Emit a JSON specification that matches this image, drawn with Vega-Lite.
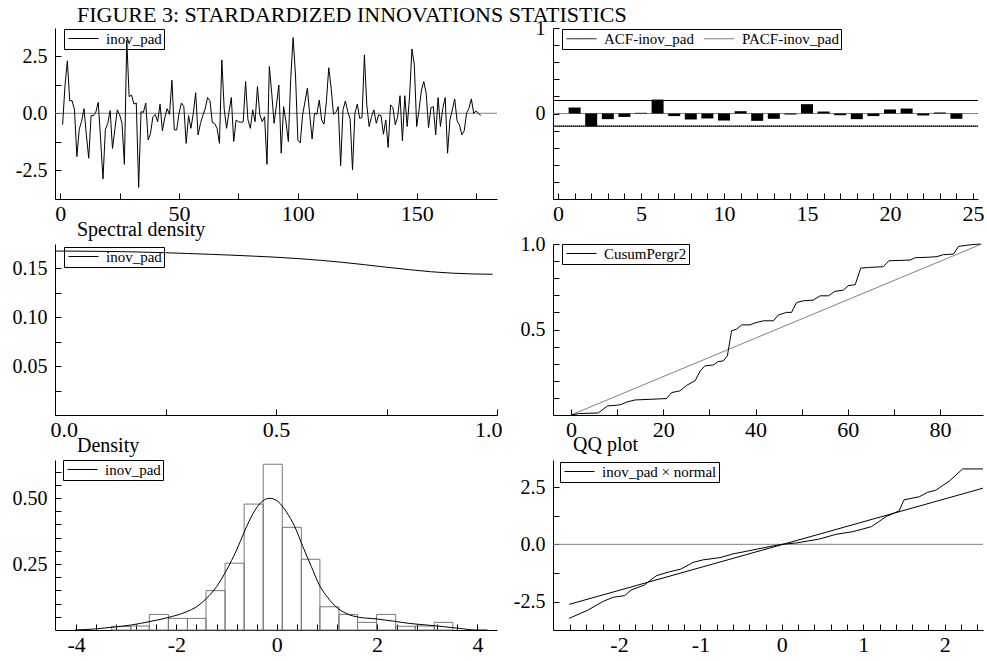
{
  "$schema": "https://vega.github.io/schema/vega-lite/v6.json",
  "padding": {"left": 12, "top": 4, "right": 0, "bottom": 0},
  "background": "white",
  "columns": 2,
  "spacing": {"row": 45, "column": 56},
  "bounds": "flush",
  "resolve": {"scale": {"color": "independent", "strokeDash": "independent"}, "legend": {"color": "independent", "strokeDash": "independent"}},
  "config": {
    "view": {"stroke": null},
    "font": "Liberation Serif",
    "axis": {"grid": false, "domainColor": "black", "domainWidth": 1, "tickColor": "black", "tickWidth": 1, "tickSize": -6, "labelColor": "black", "labelFont": "Liberation Serif", "labelOverlap": false, "tickCount": 1000},
    "axisX": {"labelFontSize": 22, "labelPadding": 10, "labelFlush": false},
    "axisY": {"labelFontSize": 20, "labelPadding": 14},
    "legend": {"strokeColor": "black", "padding": 2, "symbolStrokeWidth": 1, "labelFont": "Liberation Serif", "labelFontSize": 15, "labelOffset": 25, "labelColor": "black", "columnPadding": 8, "cornerRadius": 0},
    "title": {"font": "Liberation Serif", "fontWeight": "normal", "color": "black", "anchor": "start", "frame": "group", "baseline": "alphabetic"}
  },
  "concat": [
    {
      "width": 442, "height": 171,
      "title": {"text": "FIGURE 3: STARDARDIZED INNOVATIONS STATISTICS", "dx": 22, "offset": 1, "fontSize": 22},
      "layer": [
        {
          "data": {"values": [{"v": 0}]},
          "mark": {"type": "rule", "color": "#808080", "strokeWidth": 1},
          "encoding": {"y": {"field": "v", "type": "quantitative", "scale": {"domain": [-3.76, 3.74], "nice": false, "zero": false}, "axis": {"title": null, "tickCount": 1000, "labelOverlap": false, "values": [-2.5, -1.25, 0, 1.25, 2.5], "labelExpr": "datum.value === 2.5 ? '2.5' : datum.value === 0 ? '0.0' : datum.value === -2.5 ? '-2.5' : ''"}}}
        },
        {
          "data": {"values": [
{"t":1,"v":-0.5},{"t":2,"v":1.2},{"t":3,"v":2.3},{"t":4,"v":0.55},{"t":5,"v":0.55},{"t":6,"v":0.15},{"t":7,"v":-1.9},{"t":8,"v":-0.7},{"t":9,"v":-0.35},{"t":10,"v":0.2},
{"t":11,"v":-0.95},{"t":12,"v":-1.97},{"t":13,"v":-0.1},{"t":14,"v":-0.1},{"t":15,"v":0.05},{"t":16,"v":0.48},{"t":17,"v":-1.17},{"t":18,"v":-2.88},{"t":19,"v":-0.7},{"t":20,"v":-0.45},
{"t":21,"v":0.12},{"t":22,"v":-1.55},{"t":23,"v":-0.7},{"t":24,"v":0.15},{"t":25,"v":-0.07},{"t":26,"v":-0.44},{"t":27,"v":-2.24},{"t":28,"v":3.2},{"t":29,"v":0.73},{"t":30,"v":0.8},
{"t":31,"v":0.41},{"t":32,"v":0.45},{"t":33,"v":-3.25},{"t":34,"v":0.07},{"t":35,"v":0.04},{"t":36,"v":0.45},{"t":37,"v":-1.17},{"t":38,"v":-0.88},{"t":39,"v":-0.15},{"t":40,"v":-0.05},
{"t":41,"v":-0.37},{"t":42,"v":0.4},{"t":43,"v":-0.77},{"t":44,"v":-0.2},{"t":45,"v":0.2},{"t":46,"v":-0.05},{"t":47,"v":1.45},{"t":48,"v":-0.73},{"t":49,"v":-0.73},{"t":50,"v":0.0},
{"t":51,"v":0.45},{"t":52,"v":0.3},{"t":53,"v":-1.32},{"t":54,"v":-0.1},{"t":55,"v":-0.66},{"t":56,"v":0.0},{"t":57,"v":0.9},{"t":58,"v":-0.95},{"t":59,"v":-0.45},{"t":60,"v":-0.1},
{"t":61,"v":0.2},{"t":62,"v":0.69},{"t":63,"v":0.55},{"t":64,"v":-0.4},{"t":65,"v":-0.45},{"t":66,"v":-0.66},{"t":67,"v":-1.32},{"t":68,"v":2.34},{"t":69,"v":0.2},{"t":70,"v":-0.66},
{"t":71,"v":0.05},{"t":72,"v":0.69},{"t":73,"v":-1.24},{"t":74,"v":-0.3},{"t":75,"v":-0.37},{"t":76,"v":-0.4},{"t":77,"v":-0.37},{"t":78,"v":1.39},{"t":79,"v":-0.29},{"t":80,"v":-0.66},
{"t":81,"v":0.15},{"t":82,"v":-0.37},{"t":83,"v":1.17},{"t":84,"v":-0.07},{"t":85,"v":-0.37},{"t":86,"v":-0.15},{"t":87,"v":-2.24},{"t":88,"v":2.05},{"t":89,"v":0.88},{"t":90,"v":-0.44},
{"t":91,"v":0.37},{"t":92,"v":1.24},{"t":93,"v":-1.75},{"t":94,"v":0.29},{"t":95,"v":-0.37},{"t":96,"v":-1.24},{"t":97,"v":1.53},{"t":98,"v":3.32},{"t":99,"v":1.68},{"t":100,"v":-1.17},
{"t":101,"v":-1.3},{"t":102,"v":-0.07},{"t":103,"v":0.51},{"t":104,"v":1.1},{"t":105,"v":-0.07},{"t":106,"v":-1.13},{"t":107,"v":0.0},{"t":108,"v":-0.04},{"t":109,"v":0.58},{"t":110,"v":-0.29},
{"t":111,"v":-0.48},{"t":112,"v":0.51},{"t":113,"v":2.0},{"t":114,"v":1.1},{"t":115,"v":-0.04},{"t":116,"v":0.04},{"t":117,"v":0.29},{"t":118,"v":-2.3},{"t":119,"v":0.15},{"t":120,"v":0.54},
{"t":121,"v":0.07},{"t":122,"v":-0.25},{"t":123,"v":-2.49},{"t":124,"v":0.0},{"t":125,"v":0.4},{"t":126,"v":-0.22},{"t":127,"v":-0.19},{"t":128,"v":2.56},{"t":129,"v":0.37},{"t":130,"v":-0.58},
{"t":131,"v":-0.15},{"t":132,"v":0.15},{"t":133,"v":-0.44},{"t":134,"v":-0.07},{"t":135,"v":-0.1},{"t":136,"v":-0.92},{"t":137,"v":-0.29},{"t":138,"v":-1.5},{"t":139,"v":0.37},{"t":140,"v":0.25},
{"t":141,"v":-0.51},{"t":142,"v":-0.15},{"t":143,"v":0.77},{"t":144,"v":-1.21},{"t":145,"v":0.77},{"t":146,"v":-0.58},{"t":147,"v":0.73},{"t":148,"v":2.82},{"t":149,"v":2.15},{"t":150,"v":-0.58},
{"t":151,"v":0.15},{"t":152,"v":1.02},{"t":153,"v":1.39},{"t":154,"v":0.88},{"t":155,"v":-0.63},{"t":156,"v":0.25},{"t":157,"v":0.29},{"t":158,"v":-0.95},{"t":159,"v":0.69},{"t":160,"v":-0.58},
{"t":161,"v":0.22},{"t":162,"v":0.69},{"t":163,"v":-1.75},{"t":164,"v":-0.29},{"t":165,"v":0.15},{"t":166,"v":0.63},{"t":167,"v":-0.33},{"t":168,"v":-0.51},{"t":169,"v":-0.95},{"t":170,"v":-0.77},
{"t":171,"v":0.0},{"t":172,"v":0.22},{"t":173,"v":0.63},{"t":174,"v":0.0},{"t":175,"v":0.1},{"t":176,"v":0.0},{"t":177,"v":-0.1}
          ]},
          "transform": [{"calculate": "'inov_pad'", "as": "s"}],
          "mark": {"type": "line", "strokeWidth": 1},
          "encoding": {
            "x": {"field": "t", "type": "quantitative", "scale": {"domain": [-2.2, 183.8], "nice": false, "zero": false}, "axis": {"title": null, "tickCount": 1000, "labelOverlap": false, "values": [0, 25, 50, 75, 100, 125, 150, 175], "labelExpr": "datum.value % 50 === 0 ? '' + datum.value : ''"}},
            "y": {"field": "v", "type": "quantitative", "scale": {"domain": [-3.76, 3.74], "nice": false, "zero": false}},
            "color": {"field": "s", "type": "nominal", "scale": {"range": ["black"]}, "legend": {"title": null, "orient": "none", "legendX": 9, "legendY": 1, "symbolType": "M-1,0H5", "symbolSize": 100}}
          }
        }
      ]
    },
    {
      "width": 425, "height": 171,
      "layer": [
        {
          "data": {"values": [{"acf": 0}]},
          "mark": {"type": "rule", "color": "#808080", "strokeWidth": 1},
          "encoding": {"y": {"field": "acf", "type": "quantitative", "scale": {"domain": [-1, 1], "nice": false}, "axis": {"title": null, "tickCount": 1000, "labelOverlap": false, "values": [-0.8, -0.6, -0.4, -0.2, 0, 0.2, 0.4, 0.6, 0.8, 1], "labelExpr": "datum.value === 0 ? '0' : datum.value === 1 ? '1' : ''"}}}
        },
        {
          "data": {"values": [
            {"s": "ACF-inov_pad", "acf": 0.152}, {"s": "ACF-inov_pad", "acf": -0.148},
            {"s": "PACF-inov_pad", "acf": 0.152}, {"s": "PACF-inov_pad", "acf": -0.148}
          ]},
          "mark": {"type": "rule", "strokeWidth": 1},
          "encoding": {
            "y": {"field": "acf", "type": "quantitative", "scale": {"domain": [-1, 1], "nice": false}},
            "color": {"field": "s", "type": "nominal", "scale": {"range": ["black", "black"]}, "legend": {"title": null, "orient": "none", "legendX": 9, "legendY": 1, "direction": "horizontal", "symbolType": "M-1,0H5", "symbolSize": 100}},
            "strokeDash": {"field": "s", "type": "nominal", "scale": {"range": [[1, 0], [1, 1]]}, "legend": {"title": null, "orient": "none", "legendX": 9, "legendY": 1, "direction": "horizontal", "symbolType": "M-1,0H5", "symbolSize": 100}}
          }
        },
        {
          "data": {"values": [
            {"lag": 1, "acf": 0.07}, {"lag": 2, "acf": -0.148}, {"lag": 3, "acf": -0.066}, {"lag": 4, "acf": -0.04}, {"lag": 5, "acf": 0.008}, {"lag": 6, "acf": 0.163},
            {"lag": 7, "acf": -0.03}, {"lag": 8, "acf": -0.07}, {"lag": 9, "acf": -0.058}, {"lag": 10, "acf": -0.082}, {"lag": 11, "acf": 0.027}, {"lag": 12, "acf": -0.086},
            {"lag": 13, "acf": -0.062}, {"lag": 14, "acf": -0.012}, {"lag": 15, "acf": 0.109}, {"lag": 16, "acf": 0.023}, {"lag": 17, "acf": -0.02}, {"lag": 18, "acf": -0.066},
            {"lag": 19, "acf": -0.03}, {"lag": 20, "acf": 0.047}, {"lag": 21, "acf": 0.058}, {"lag": 22, "acf": -0.023}, {"lag": 23, "acf": 0.012}, {"lag": 24, "acf": -0.062}
          ]},
          "mark": {"type": "bar", "color": "black", "size": 12, "orient": "vertical"},
          "encoding": {
            "x": {"field": "lag", "type": "quantitative", "scale": {"domain": [0, 25], "nice": false}, "axis": {"title": null, "tickCount": 1000, "labelOverlap": false, "values": [0,1,2,3,4,5,6,7,8,9,10,11,12,13,14,15,16,17,18,19,20,21,22,23,24,25], "labelExpr": "datum.value % 5 === 0 ? '' + datum.value : ''", "labelFlush": true, "labelFlushOffset": 9}},
            "y": {"field": "acf", "type": "quantitative", "scale": {"domain": [-1, 1], "nice": false}}
          }
        }
      ]
    },
    {
      "width": 442, "height": 171,
      "title": {"text": "Spectral density", "dx": 22, "offset": 4, "fontSize": 20},
      "data": {"values": [
        {"f": 0, "p": 0.1673, "s": "inov_pad"}, {"f": 0.05, "p": 0.1672, "s": "inov_pad"}, {"f": 0.1, "p": 0.167, "s": "inov_pad"}, {"f": 0.15, "p": 0.1667, "s": "inov_pad"},
        {"f": 0.2, "p": 0.1662, "s": "inov_pad"}, {"f": 0.25, "p": 0.1656, "s": "inov_pad"}, {"f": 0.3, "p": 0.1648, "s": "inov_pad"}, {"f": 0.35, "p": 0.164, "s": "inov_pad"},
        {"f": 0.4, "p": 0.1631, "s": "inov_pad"}, {"f": 0.45, "p": 0.1621, "s": "inov_pad"}, {"f": 0.5, "p": 0.161, "s": "inov_pad"}, {"f": 0.55, "p": 0.1596, "s": "inov_pad"},
        {"f": 0.6, "p": 0.1579, "s": "inov_pad"}, {"f": 0.65, "p": 0.1558, "s": "inov_pad"}, {"f": 0.7, "p": 0.1534, "s": "inov_pad"}, {"f": 0.75, "p": 0.1508, "s": "inov_pad"},
        {"f": 0.8, "p": 0.1484, "s": "inov_pad"}, {"f": 0.85, "p": 0.1462, "s": "inov_pad"}, {"f": 0.9, "p": 0.1447, "s": "inov_pad"}, {"f": 0.95, "p": 0.1439, "s": "inov_pad"},
        {"f": 0.99, "p": 0.1436, "s": "inov_pad"}
      ]},
      "mark": {"type": "line", "strokeWidth": 1},
      "encoding": {
        "x": {"field": "f", "type": "quantitative", "scale": {"domain": [0, 1], "nice": false}, "axis": {"title": null, "tickCount": 1000, "labelOverlap": false, "values": [0, 0.25, 0.5, 0.75, 1], "labelExpr": "datum.value === 0 ? '0.0' : datum.value === 0.5 ? '0.5' : datum.value === 1 ? '1.0' : ''", "labelFlush": true, "labelFlushOffset": 5}},
        "y": {"field": "p", "type": "quantitative", "scale": {"domain": [0, 0.1745], "nice": false}, "axis": {"title": null, "tickCount": 1000, "labelOverlap": false, "values": [0.025, 0.05, 0.075, 0.1, 0.125, 0.15], "labelExpr": "datum.value === 0.05 ? '0.05' : datum.value === 0.1 ? '0.10' : datum.value === 0.15 ? '0.15' : ''"}},
        "color": {"field": "s", "type": "nominal", "scale": {"range": ["black"]}, "legend": {"title": null, "orient": "none", "legendX": 9, "legendY": 3, "symbolType": "M-1,0H5", "symbolSize": 100}}
      }
    },
    {
      "width": 430, "height": 171,
      "layer": [
        {
          "data": {"values": [{"k": 0, "v": 0}, {"k": 89, "v": 1}]},
          "mark": {"type": "line", "color": "#808080", "strokeWidth": 1},
          "encoding": {
            "x": {"field": "k", "type": "quantitative", "scale": {"domain": [-3.9, 89.3], "nice": false, "zero": false}, "axis": {"title": null, "tickCount": 1000, "labelOverlap": false, "values": [0, 10, 20, 30, 40, 50, 60, 70, 80], "labelExpr": "datum.value % 20 === 0 ? '' + datum.value : ''"}},
            "y": {"field": "v", "type": "quantitative", "scale": {"domain": [0, 1], "nice": false}, "axis": {"title": null, "tickCount": 1000, "labelOverlap": false, "values": [0.1, 0.2, 0.3, 0.4, 0.5, 0.6, 0.7, 0.8, 0.9, 1], "labelExpr": "datum.value === 0.5 ? '0.5' : datum.value === 1 ? '1.0' : ''"}}
          }
        },
        {
          "data": {"values": [
            {"k": 0, "v": 0}, {"k": 1.6, "v": 0.008}, {"k": 5.9, "v": 0.012}, {"k": 7.9, "v": 0.053}, {"k": 9.9, "v": 0.057}, {"k": 11, "v": 0.0625},
            {"k": 12.1, "v": 0.076}, {"k": 13.9, "v": 0.088}, {"k": 20.7, "v": 0.096}, {"k": 21.8, "v": 0.131}, {"k": 23.6, "v": 0.141}, {"k": 25.1, "v": 0.174},
            {"k": 26.9, "v": 0.2}, {"k": 28, "v": 0.258}, {"k": 29, "v": 0.287}, {"k": 30.9, "v": 0.293}, {"k": 31.9, "v": 0.3125}, {"k": 33, "v": 0.316},
            {"k": 33.9, "v": 0.346}, {"k": 34.8, "v": 0.492}, {"k": 35.9, "v": 0.502}, {"k": 37, "v": 0.527}, {"k": 38.8, "v": 0.527}, {"k": 39.9, "v": 0.539},
            {"k": 41.7, "v": 0.551}, {"k": 43.9, "v": 0.551}, {"k": 44.9, "v": 0.584}, {"k": 46.7, "v": 0.6}, {"k": 47.8, "v": 0.6}, {"k": 48.9, "v": 0.658},
            {"k": 50.4, "v": 0.668}, {"k": 52.5, "v": 0.672}, {"k": 54, "v": 0.697}, {"k": 55.8, "v": 0.697}, {"k": 57.2, "v": 0.723}, {"k": 59, "v": 0.73},
            {"k": 60.1, "v": 0.756}, {"k": 61.6, "v": 0.762}, {"k": 62.8, "v": 0.859}, {"k": 64.5, "v": 0.863}, {"k": 67.7, "v": 0.867}, {"k": 68.9, "v": 0.902},
            {"k": 73.5, "v": 0.906}, {"k": 74.6, "v": 0.92}, {"k": 77.1, "v": 0.922}, {"k": 79.3, "v": 0.926}, {"k": 80.7, "v": 0.9375}, {"k": 82.9, "v": 0.941},
            {"k": 84, "v": 0.986}, {"k": 86.1, "v": 0.994}, {"k": 88.7, "v": 1.0}
          ]},
          "transform": [{"calculate": "'CusumPergr2'", "as": "s"}],
          "mark": {"type": "line", "strokeWidth": 1},
          "encoding": {
            "x": {"field": "k", "type": "quantitative", "scale": {"domain": [-3.9, 89.3], "nice": false, "zero": false}},
            "y": {"field": "v", "type": "quantitative", "scale": {"domain": [0, 1], "nice": false}},
            "color": {"field": "s", "type": "nominal", "scale": {"range": ["black"]}, "legend": {"title": null, "orient": "none", "legendX": 9, "legendY": 0, "symbolType": "M-1,0H5", "symbolSize": 100}}
          }
        }
      ]
    },
    {
      "width": 442, "height": 170,
      "title": {"text": "Density", "dx": 22, "offset": 4, "fontSize": 20},
      "layer": [
        {
          "data": {"values": [
            {"b0": -3.29, "b1": -2.91, "d": 0.013}, {"b0": -2.91, "b1": -2.54, "d": 0.015}, {"b0": -2.54, "b1": -2.16, "d": 0.059},
            {"b0": -2.16, "b1": -1.78, "d": 0.044}, {"b0": -1.78, "b1": -1.41, "d": 0.044}, {"b0": -1.41, "b1": -1.03, "d": 0.149},
            {"b0": -1.03, "b1": -0.65, "d": 0.253}, {"b0": -0.65, "b1": -0.27, "d": 0.477}, {"b0": -0.27, "b1": 0.11, "d": 0.628},
            {"b0": 0.11, "b1": 0.49, "d": 0.389}, {"b0": 0.49, "b1": 0.86, "d": 0.268}, {"b0": 0.86, "b1": 1.24, "d": 0.088},
            {"b0": 1.24, "b1": 1.61, "d": 0.059}, {"b0": 1.61, "b1": 1.99, "d": 0.029}, {"b0": 1.99, "b1": 2.37, "d": 0.059},
            {"b0": 2.37, "b1": 2.76, "d": 0.014}, {"b0": 2.76, "b1": 3.14, "d": 0.015}, {"b0": 3.14, "b1": 3.51, "d": 0.029}
          ]},
          "mark": {"type": "rect", "filled": false, "stroke": "#777777", "strokeWidth": 1},
          "encoding": {
            "x": {"field": "b0", "type": "quantitative", "scale": {"domain": [-4.42, 4.39], "nice": false, "zero": false}, "axis": {"title": null, "tickCount": 1000, "labelOverlap": false, "values": [-4, -3.6, -3.2, -2.8, -2.4, -2, -1.6, -1.2, -0.8, -0.4, 0, 0.4, 0.8, 1.2, 1.6, 2, 2.4, 2.8, 3.2, 3.6, 4], "labelExpr": "datum.value === -4 ? '-4' : datum.value === -2 ? '-2' : datum.value === 0 ? '0' : datum.value === 2 ? '2' : datum.value === 4 ? '4' : ''"}},
            "x2": {"field": "b1"},
            "y": {"field": "d", "type": "quantitative", "scale": {"domain": [0, 0.644], "nice": false}, "axis": {"title": null, "tickCount": 1000, "labelOverlap": false, "values": [0.05, 0.1, 0.15, 0.2, 0.25, 0.3, 0.35, 0.4, 0.45, 0.5, 0.55, 0.6], "labelExpr": "datum.value === 0.25 ? '0.25' : datum.value === 0.5 ? '0.50' : ''"}},
            "y2": {"datum": 0}
          }
        },
        {
          "data": {"values": [
            {"b0": -4.02, "d": 0}, {"b0": -3.62, "d": 0.004}, {"b0": -3.26, "d": 0.011}, {"b0": -2.9, "d": 0.019}, {"b0": -2.53, "d": 0.032},
            {"b0": -2.17, "d": 0.047}, {"b0": -1.8, "d": 0.069}, {"b0": -1.6, "d": 0.088}, {"b0": -1.4, "d": 0.12}, {"b0": -1.2, "d": 0.164},
            {"b0": -1.0, "d": 0.227}, {"b0": -0.8, "d": 0.303}, {"b0": -0.64, "d": 0.375}, {"b0": -0.47, "d": 0.442}, {"b0": -0.3, "d": 0.486},
            {"b0": -0.14, "d": 0.499}, {"b0": 0.03, "d": 0.486}, {"b0": 0.19, "d": 0.448}, {"b0": 0.36, "d": 0.391}, {"b0": 0.52, "d": 0.316},
            {"b0": 0.69, "d": 0.24}, {"b0": 0.85, "d": 0.17}, {"b0": 1.02, "d": 0.122}, {"b0": 1.18, "d": 0.088}, {"b0": 1.38, "d": 0.063},
            {"b0": 1.65, "d": 0.048}, {"b0": 1.98, "d": 0.042}, {"b0": 2.31, "d": 0.034}, {"b0": 2.64, "d": 0.025}, {"b0": 2.98, "d": 0.019},
            {"b0": 3.31, "d": 0.013}, {"b0": 3.64, "d": 0.006}, {"b0": 3.97, "d": 0.0}, {"b0": 4.2, "d": 0.0}
          ]},
          "transform": [{"calculate": "'inov_pad'", "as": "s"}],
          "mark": {"type": "line", "strokeWidth": 1, "interpolate": "monotone"},
          "encoding": {
            "x": {"field": "b0", "type": "quantitative", "scale": {"domain": [-4.42, 4.39], "nice": false, "zero": false}},
            "y": {"field": "d", "type": "quantitative", "scale": {"domain": [0, 0.644], "nice": false}},
            "color": {"field": "s", "type": "nominal", "scale": {"range": ["black"]}, "legend": {"title": null, "orient": "none", "legendX": 8, "legendY": 0, "symbolType": "M-1,0H5", "symbolSize": 100}}
          }
        }
      ]
    },
    {
      "width": 430, "height": 170,
      "title": {"text": "QQ plot", "dx": 20, "offset": 5, "fontSize": 20},
      "layer": [
        {
          "data": {"values": [{"y": 0}]},
          "mark": {"type": "rule", "color": "#808080", "strokeWidth": 1},
          "encoding": {"y": {"field": "y", "type": "quantitative", "scale": {"domain": [-3.74, 3.68], "nice": false, "zero": false}, "axis": {"title": null, "tickCount": 1000, "labelOverlap": false, "values": [-2.5, -1.25, 0, 1.25, 2.5], "labelExpr": "datum.value === 2.5 ? '2.5' : datum.value === 0 ? '0.0' : datum.value === -2.5 ? '-2.5' : ''"}}}
        },
        {
          "data": {"values": [{"q": -2.61, "y": -2.62}, {"q": 2.47, "y": 2.45}]},
          "mark": {"type": "line", "color": "black", "strokeWidth": 1},
          "encoding": {
            "x": {"field": "q", "type": "quantitative", "scale": {"domain": [-2.81, 2.47], "nice": false, "zero": false}, "axis": {"title": null, "tickCount": 1000, "labelOverlap": false, "values": [-2.6, -2.4, -2.2, -2, -1.8, -1.6, -1.4, -1.2, -1, -0.8, -0.6, -0.4, -0.2, 0, 0.2, 0.4, 0.6, 0.8, 1, 1.2, 1.4, 1.6, 1.8, 2, 2.2, 2.4], "labelExpr": "datum.value === -2 ? '-2' : datum.value === -1 ? '-1' : datum.value === 0 ? '0' : datum.value === 1 ? '1' : datum.value === 2 ? '2' : ''"}},
            "y": {"field": "y", "type": "quantitative", "scale": {"domain": [-3.74, 3.68], "nice": false, "zero": false}}
          }
        },
        {
          "data": {"values": [
            {"q": -2.61, "y": -3.23}, {"q": -2.38, "y": -2.87}, {"q": -2.2, "y": -2.5}, {"q": -2.07, "y": -2.31}, {"q": -1.93, "y": -2.24},
            {"q": -1.85, "y": -1.99}, {"q": -1.69, "y": -1.78}, {"q": -1.54, "y": -1.37}, {"q": -1.4, "y": -1.22}, {"q": -1.24, "y": -1.08},
            {"q": -1.09, "y": -0.79}, {"q": -0.97, "y": -0.68}, {"q": -0.76, "y": -0.58}, {"q": -0.6, "y": -0.42}, {"q": -0.36, "y": -0.25},
            {"q": -0.15, "y": -0.1}, {"q": 0, "y": 0}, {"q": 0.18, "y": 0.06}, {"q": 0.46, "y": 0.23}, {"q": 0.67, "y": 0.44},
            {"q": 0.87, "y": 0.55}, {"q": 1.1, "y": 0.77}, {"q": 1.28, "y": 1.21}, {"q": 1.44, "y": 1.46}, {"q": 1.5, "y": 1.94},
            {"q": 1.69, "y": 2.08}, {"q": 1.79, "y": 2.27}, {"q": 1.89, "y": 2.36}, {"q": 2.06, "y": 2.77}, {"q": 2.22, "y": 3.29}, {"q": 2.47, "y": 3.29}
          ]},
          "transform": [{"calculate": "'inov_pad × normal'", "as": "s"}],
          "mark": {"type": "line", "strokeWidth": 1},
          "encoding": {
            "x": {"field": "q", "type": "quantitative", "scale": {"domain": [-2.81, 2.47], "nice": false, "zero": false}},
            "y": {"field": "y", "type": "quantitative", "scale": {"domain": [-3.74, 3.68], "nice": false, "zero": false}},
            "color": {"field": "s", "type": "nominal", "scale": {"range": ["black"]}, "legend": {"title": null, "orient": "none", "legendX": 7, "legendY": 2, "symbolType": "M-1,0H5", "symbolSize": 100}}
          }
        }
      ]
    }
  ]
}
